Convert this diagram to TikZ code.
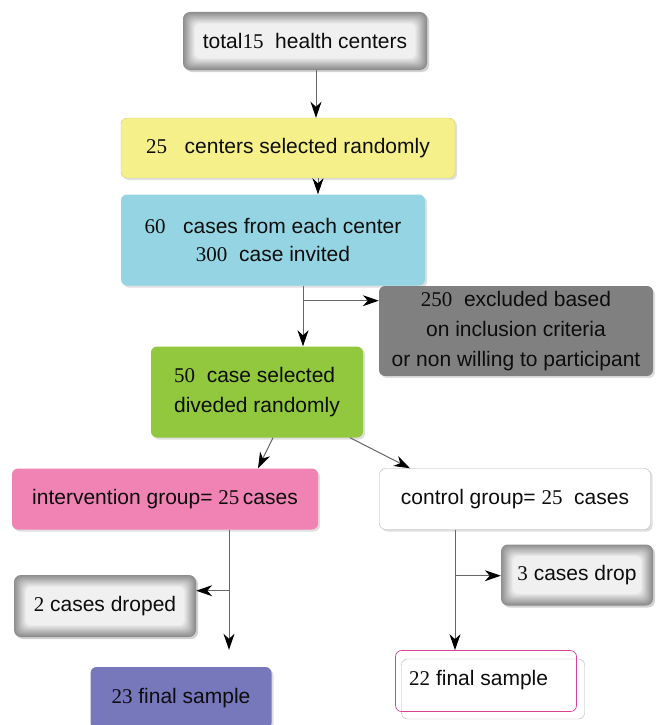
\documentclass[tikz,border=0pt]{standalone}
\usepackage{fontspec}
\setmainfont{Liberation Sans}
\newfontfamily\numf{Liberation Serif}
\usetikzlibrary{arrows.meta,shadows,calc}
\definecolor{cY}{HTML}{F6F08A}
\definecolor{cC}{HTML}{95D5E3}
\definecolor{cG}{HTML}{808080}
\definecolor{cGr}{HTML}{92C83E}
\definecolor{cP}{HTML}{F083B3}
\definecolor{cV}{HTML}{7777BB}
\definecolor{cM}{HTML}{D9409A}
\begin{document}
\begin{tikzpicture}[x=1pt,y=-1pt,
  every node/.style={font=\fontsize{21}{28}\selectfont, text=black!95, inner sep=0pt},
  box/.style={rounded corners=6pt, align=center,
    drop shadow={opacity=0.25,shadow xshift=2pt,shadow yshift=-2pt}},
  bevel/.style={rounded corners=7pt, fill=black!45,
    drop shadow={opacity=0.35,shadow xshift=2pt,shadow yshift=-2pt},
    path picture={
      \foreach \i in {1,...,13}{
        \pgfmathtruncatemacro\g{45-\i*3}
        \fill[black!\g, rounded corners=6pt]
          ([shift={(\i*0.9pt,\i*0.9pt)}]path picture bounding box.south west)
          rectangle ([shift={(-\i*0.9pt,-\i*0.9pt)}]path picture bounding box.north east);
      }
    }},
  arr/.style={draw=black!60, line width=1pt,
    -{Stealth[length=16pt,width=11pt,inset=5pt,color=black]}}
]
\useasboundingbox (0,0) rectangle (660,725);
\clip (0,0) rectangle (660,725);
\fill[white] (0,0) rectangle (660,725);

% boxes
\node[bevel, minimum width=244, minimum height=58] (total) at (305,41)
  {total{\numf 15}\ \ health centers};
\node[box, fill=cY, draw=cY!85!black, minimum width=334, minimum height=60] (sel) at (288,148)
  {{\numf 25}\ \ \ centers selected randomly};
\node[box, fill=cC, minimum width=304, minimum height=91] (inv) at (273,240)
  {{\numf 60}\ \ \ cases from each center\\{\numf 300}\ \ case invited};
\node[box, fill=cG, minimum width=274, minimum height=90,
  font=\fontsize{21}{30}\selectfont] (exc) at (516,331)
  {{\numf 250}\ \ excluded based\\on inclusion criteria\\or non willing to participant};
\node[box, fill=cGr, minimum width=212, minimum height=91, align=left,
  font=\fontsize{21}{30}\selectfont] (grn) at (257,392)
  {{\numf 50}\ \ case selected\\diveded randomly};
\node[box, fill=cP, minimum width=306, minimum height=61] (pink) at (165,499)
  {intervention group= {\numf 25}\,cases};
\node[box, fill=white, draw=black!30, minimum width=271, minimum height=61] (ctrl) at (515,499)
  {control group= {\numf 25}\ \ cases};
\node[bevel, minimum width=152, minimum height=61] (drop3) at (577,575)
  {{\numf 3} cases drop};
\node[bevel, minimum width=182, minimum height=62] (drop2) at (105,606)
  {{\numf 2} cases droped};
\node[box, fill=cV, minimum width=181, minimum height=62] (fin23) at (181,698)
  {{\numf 23} final sample};
\node[draw=black!30, fill=white, rounded corners=6pt, minimum width=183, minimum height=60] (fin22b) at (493,689) {};
\node[draw=cM, line width=0.7pt, rounded corners=6pt, minimum width=181, minimum height=61] (fin22) at (486,681) {};
\node[anchor=west] (t22) at (409,680) {{\numf 22} final sample};

% connectors
\draw[arr] ([xshift=11pt]total.south) -- ([xshift=11pt]total.south |- sel.north);
\draw[arr] ([xshift=30pt]sel.south) -- ([xshift=30pt]sel.south |- inv.north);
\draw[arr] ([xshift=30pt]inv.south) -- ([xshift=30pt]inv.south |- grn.north);
\coordinate (b1) at ([xshift=30pt,yshift=-15pt]inv.south);
\draw[arr] (b1) -- (b1 -| exc.west);
\draw[arr] ([xshift=16pt]grn.south) -- ([xshift=93pt]pink.north);
\draw[arr] ([xshift=93pt]grn.south) -- ([xshift=-105pt]ctrl.north);
\draw[arr, shorten >=17pt] ([xshift=64pt]pink.south) -- ([xshift=64pt]pink.south |- fin23.north);
\coordinate (b2) at ([xshift=64pt,yshift=-61pt]pink.south);
\draw[arr] (b2) -- (b2 -| drop2.east);
\draw[arr] ([xshift=-60pt]ctrl.south) -- ([xshift=-60pt]ctrl.south |- fin22.north);
\coordinate (b3) at ([xshift=-60pt,yshift=-46pt]ctrl.south);
\draw[arr] (b3) -- (b3 -| drop3.west);
\end{tikzpicture}
\end{document}
